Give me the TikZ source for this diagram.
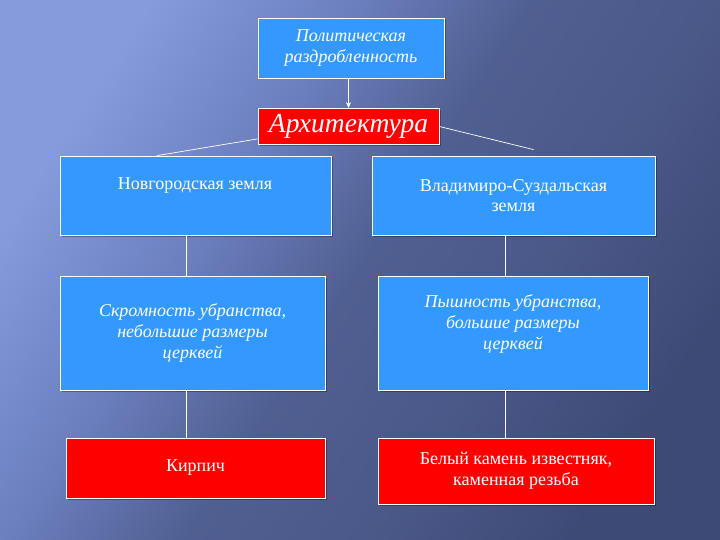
\documentclass[tikz,border=0pt]{standalone}
\usepackage{fontspec}
\setmainfont{Liberation Serif}
\usetikzlibrary{arrows.meta,shadows}
\definecolor{bgA}{RGB}{134,155,220}
\definecolor{bgB}{RGB}{108,128,192}
\definecolor{bgC}{RGB}{80,95,145}
\definecolor{bgD}{RGB}{62,74,118}
\definecolor{boxblue}{RGB}{51,153,255}
\definecolor{boxred}{RGB}{255,0,0}
\pgfdeclarehorizontalshading{bgshade}{100bp}{color(0bp)=(bgA); color(25bp)=(bgA); color(38bp)=(bgB); color(50bp)=(bgC); color(62bp)=(bgC!70!bgD); color(75bp)=(bgD); color(100bp)=(bgD)}
\tikzset{
  box/.style={draw=white, line width=0.8pt, inner sep=2pt, align=center, text=white,
    font=\fontsize{18}{20.7}\selectfont,
    drop shadow={shadow xshift=1.5pt, shadow yshift=-1.5pt, opacity=0.3, fill=black}},
  bluebox/.style={box, fill=boxblue},
  redbox/.style={box, fill=boxred},
  txt/.style={align=center, text=white, inner sep=0pt, font=\fontsize{18}{20.7}\selectfont},
  ital/.style={font=\fontsize{18}{20.7}\selectfont\itshape},
  link/.style={draw=white, line width=0.7pt}
}
\begin{document}
\begin{tikzpicture}[x=1pt,y=-1pt]
\useasboundingbox (0,0) rectangle (720,540);
\shade[shading=bgshade, shading angle=-33] (0,0) rectangle (720,540);

\node[bluebox, ital, minimum width=186pt, minimum height=60pt] (pol) at (351,48) {Политическая\\раздробленность};
\node[redbox, minimum width=181pt, minimum height=36pt, font=\fontsize{27.5}{29}\selectfont\itshape] (arch) at (348.5,126.5) {Архитектура};

\node[bluebox, minimum width=271pt, minimum height=79pt] (nov) at (195.5,195.5) {};
\node[txt] (novt) at (195,186) {Новгородская земля};
\node[bluebox, minimum width=283pt, minimum height=79pt] (vla) at (513.5,195.5) {Владимиро-Суздальская\\земля};

\node[bluebox, ital, minimum width=265pt, minimum height=114pt] (skr) at (192.5,333) {Скромность убранства,\\небольшие размеры\\церквей};
\node[bluebox, minimum width=270pt, minimum height=114pt] (pys) at (513,333) {};
\node[txt, ital] (pyst) at (513,324) {Пышность убранства,\\большие размеры\\церквей};

\node[redbox, minimum width=259pt, minimum height=60pt] (kir) at (195.5,468) {Кирпич};
\node[redbox, minimum width=276pt, minimum height=66pt] (bel) at (516,471) {Белый камень известняк,\\каменная резьба};

\draw[link, -{Stealth[length=6pt,width=5pt]}] (pol.south -| arch.north) -- (arch.north);
\draw[link] ([yshift=6pt]arch.south west) -- ([xshift=-38.5pt]nov.north);
\draw[link] (arch.east) -- ([xshift=20pt,yshift=6pt]vla.north);
\draw[link] ([xshift=-9.5pt]nov.south) -- ([xshift=-9.5pt]nov.south |- skr.north);
\draw[link] ([xshift=-6.5pt]skr.south) -- ([xshift=-6.5pt]skr.south |- kir.north);
\draw[link] ([xshift=-8.5pt]vla.south) -- ([xshift=-8.5pt]vla.south |- pys.north);
\draw[link] ([xshift=-8pt]pys.south) -- ([xshift=-8pt]pys.south |- bel.north);
\end{tikzpicture}
\end{document}
